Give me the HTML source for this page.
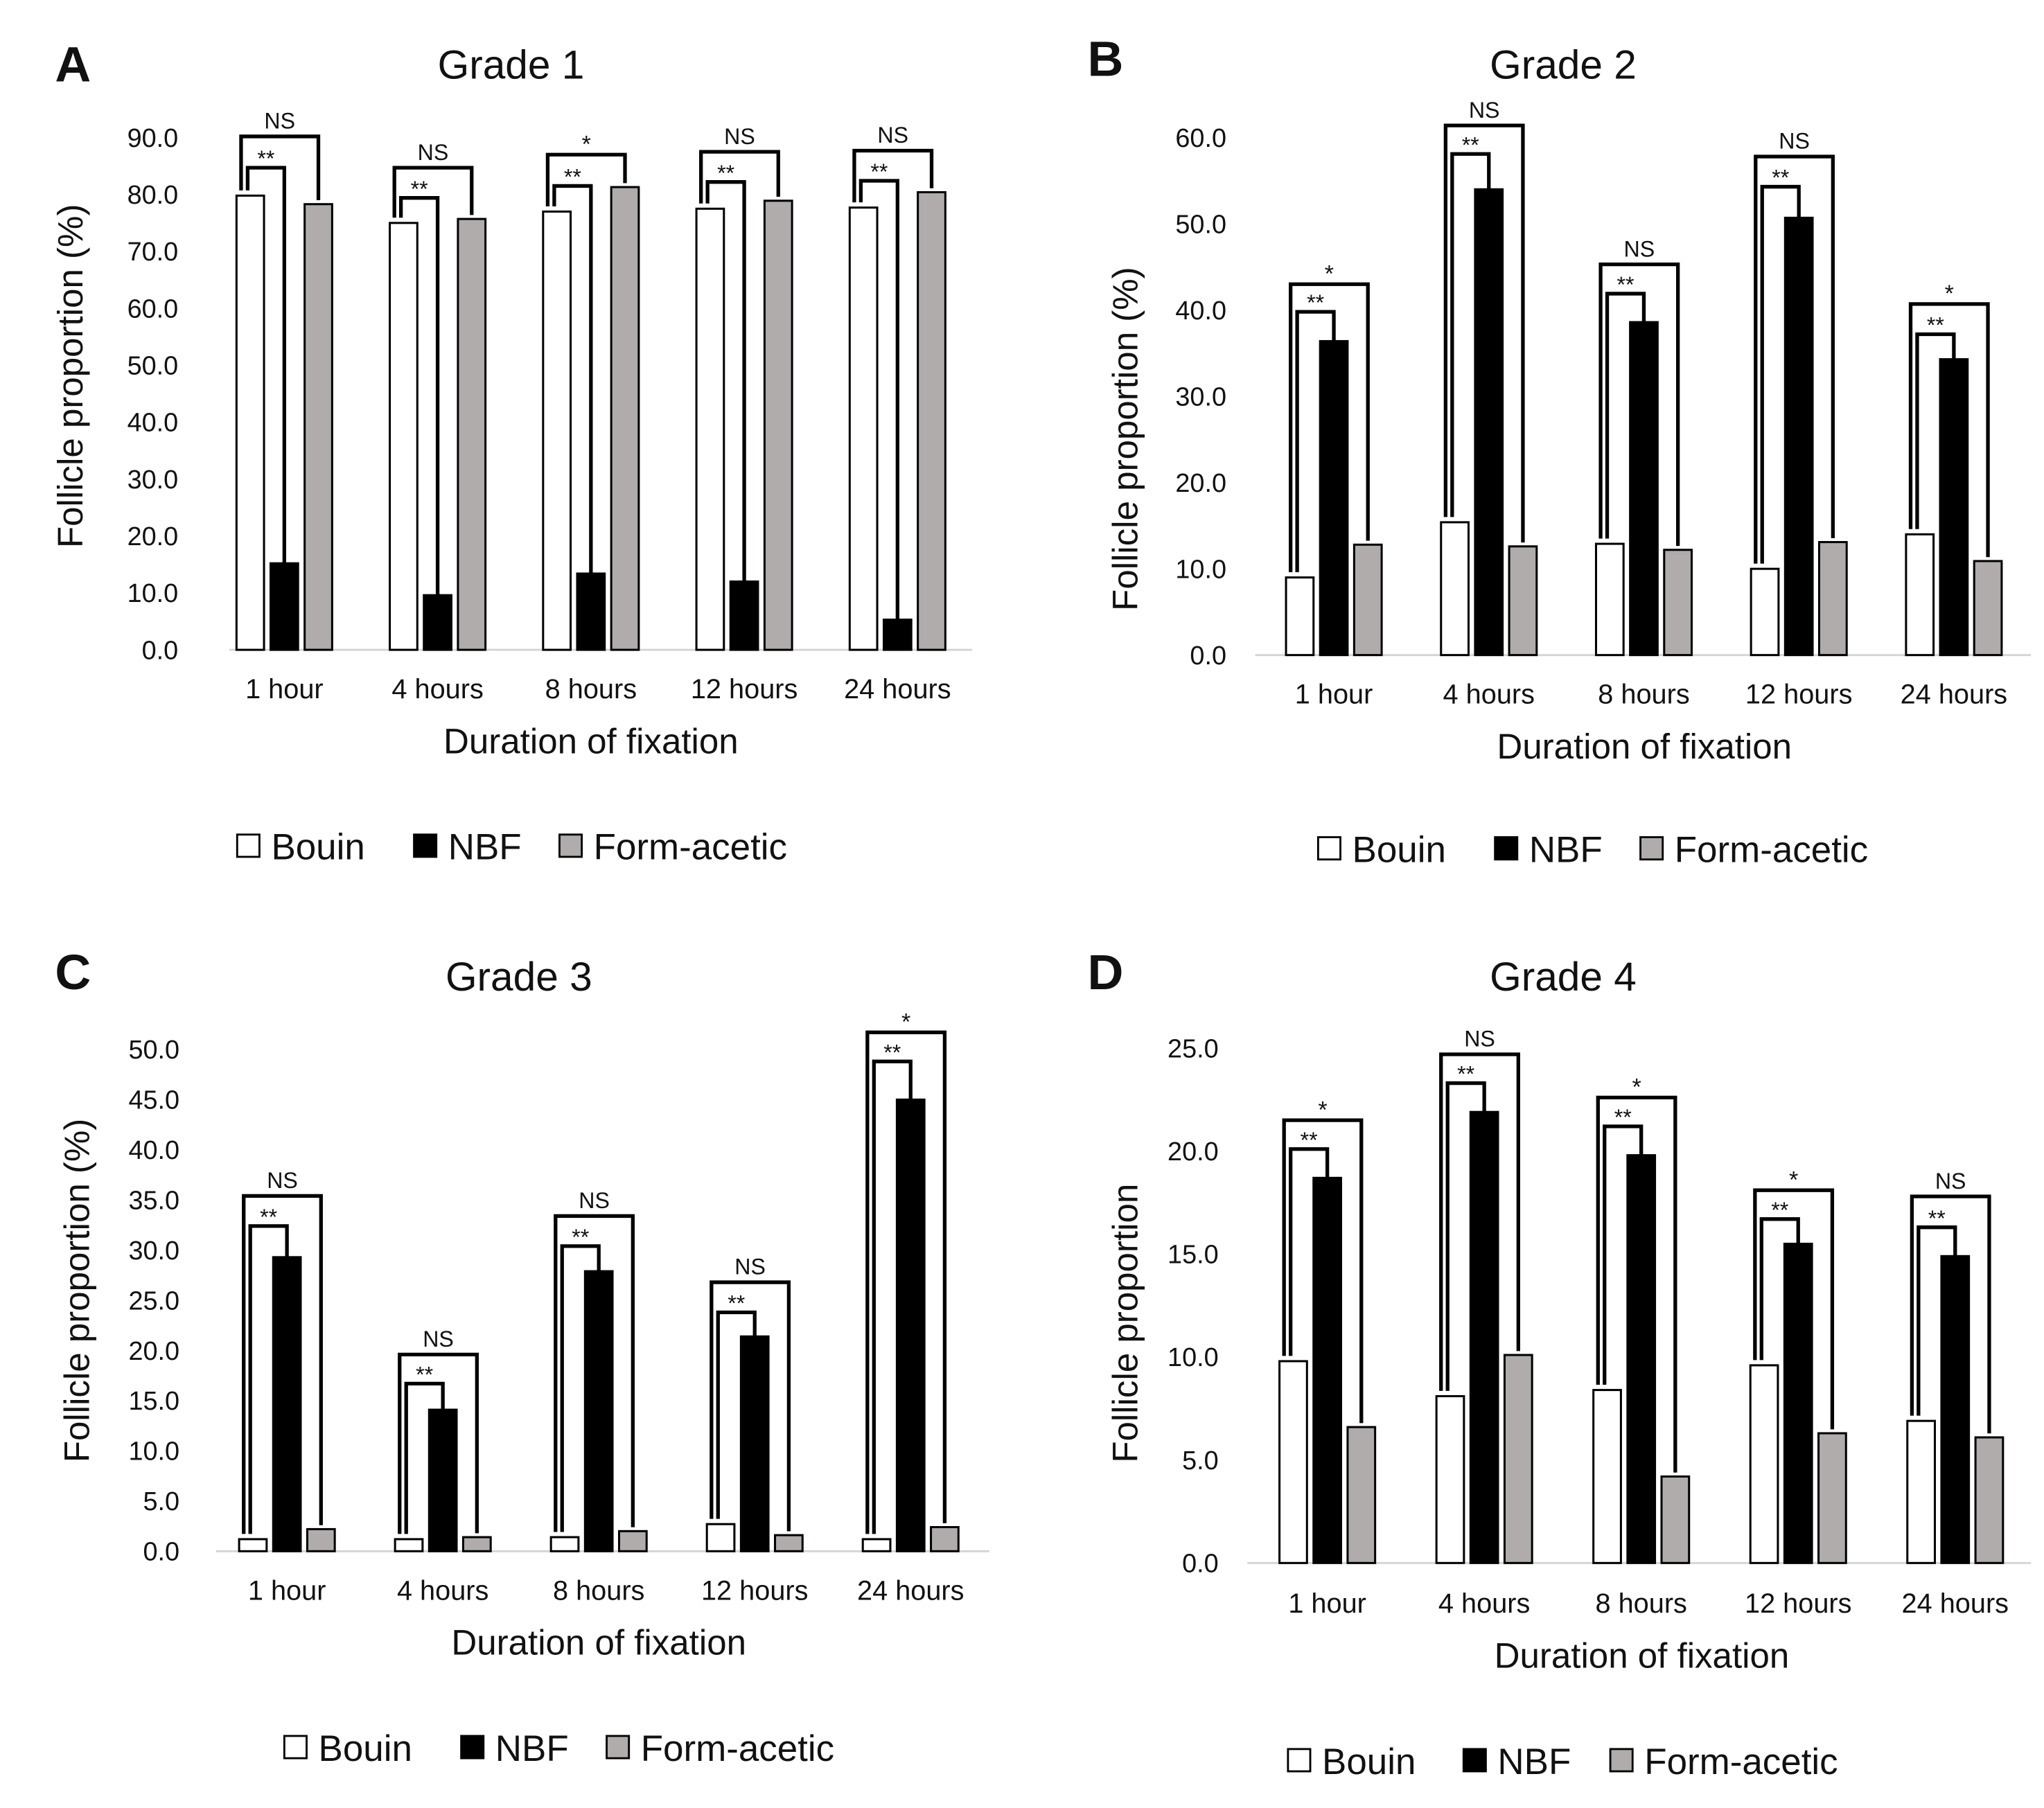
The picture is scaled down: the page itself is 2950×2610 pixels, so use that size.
<!DOCTYPE html>
<html><head><meta charset="utf-8">
<style>
html,body{margin:0;padding:0;background:#fff;}
svg{display:block;}
text{font-family:"Liberation Sans","DejaVu Sans",sans-serif;fill:#111;}
</style></head>
<body>
<svg id="fig" width="2950" height="2610" viewBox="0 0 1560 1380" preserveAspectRatio="none" xmlns="http://www.w3.org/2000/svg"></svg>
<script>
const categories = ["1 hour","4 hours","8 hours","12 hours","24 hours"];
const seriesNames = ["Bouin","NBF","Form-acetic"];
// Grade 1
const g1Bouin = [79.8, 75.0, 77.0, 77.5, 77.7];
const g1NBF = [15.2, 9.6, 13.4, 12.0, 5.3];
const g1FA = [78.3, 75.7, 81.3, 78.9, 80.4];
const g1Outer = [90.2, 84.7, 87.0, 87.5, 87.7];
const g1Inner = [84.7, 79.4, 81.5, 82.2, 82.4];
const g1OuterLabel = ["NS","NS","*","NS","NS"];
const g1Ticks = [0,10,20,30,40,50,60,70,80,90];
// Grade 2
const g2Bouin = [9.0, 15.4, 12.9, 10.0, 14.0];
const g2NBF = [36.4, 54.0, 38.6, 50.7, 34.3];
const g2FA = [12.8, 12.6, 12.2, 13.1, 10.9];
const g2Outer = [43.0, 61.4, 45.3, 57.8, 40.7];
const g2Inner = [39.8, 58.1, 41.9, 54.3, 37.2];
const g2OuterLabel = ["*","NS","NS","NS","*"];
const g2Ticks = [0,10,20,30,40,50,60];
// Grade 3
const g3Bouin = [1.2, 1.2, 1.4, 2.7, 1.2];
const g3NBF = [29.3, 14.1, 27.9, 21.4, 45.0];
const g3FA = [2.2, 1.4, 2.0, 1.6, 2.4];
const g3Outer = [35.4, 19.6, 33.4, 26.8, 51.7];
const g3Inner = [32.4, 16.7, 30.4, 23.8, 48.8];
const g3OuterLabel = ["NS","NS","NS","NS","*"];
const g3Ticks = [0,5,10,15,20,25,30,35,40,45,50];
// Grade 4
const g4Bouin = [9.8, 8.1, 8.4, 9.6, 6.9];
const g4NBF = [18.7, 21.9, 19.8, 15.5, 14.9];
const g4FA = [6.6, 10.1, 4.2, 6.3, 6.1];
const g4Outer = [21.5, 24.7, 22.6, 18.1, 17.8];
const g4Inner = [20.1, 23.3, 21.2, 16.7, 16.3];
const g4OuterLabel = ["*","NS","*","*","NS"];
const g4Ticks = [0,5,10,15,20,25];

const panels = [
 {id:"a",letter:"A",title:"Grade 1",ytitle:"Follicle proportion (%)",lx:42,ly:62,tx:390,ty:60,
  y0:496,yMax:90,yTop:105,axL:175,axR:742,c0:217,step:117,tickX:136,yt:[53,287],xt:533,xtt:[451,575],leg:[655,181,316,427],
  b:g1Bouin,n:g1NBF,f:g1FA,o:g1Outer,i:g1Inner,ol:g1OuterLabel,ticks:g1Ticks},
 {id:"b",letter:"B",title:"Grade 2",ytitle:"Follicle proportion (%)",lx:830,ly:58,tx:1193,ty:60,
  y0:500,yMax:60,yTop:105,axL:958,axR:1550,c0:1018,step:118.3,tickX:936,yt:[858,335],xt:537,xtt:[1255,579],leg:[657,1006,1141,1252],
  b:g2Bouin,n:g2NBF,f:g2FA,o:g2Outer,i:g2Inner,ol:g2OuterLabel,ticks:g2Ticks},
 {id:"c",letter:"C",title:"Grade 3",ytitle:"Follicle proportion (%)",lx:42,ly:755,tx:396,ty:756,
  y0:1184,yMax:50,yTop:801,axL:165,axR:755,c0:219,step:119,tickX:137,yt:[58,985],xt:1221,xtt:[457,1263],leg:[1343,217,352,463],
  b:g3Bouin,n:g3NBF,f:g3FA,o:g3Outer,i:g3Inner,ol:g3OuterLabel,ticks:g3Ticks},
 {id:"d",letter:"D",title:"Grade 4",ytitle:"Follicle proportion",lx:830,ly:755,tx:1193,ty:756,
  y0:1193,yMax:25,yTop:800,axL:952,axR:1550,c0:1013,step:119.8,tickX:930,yt:[858,1010],xt:1231,xtt:[1253,1273],leg:[1353,983,1117,1229],
  b:g4Bouin,n:g4NBF,f:g4FA,o:g4Outer,i:g4Inner,ol:g4OuterLabel,ticks:g4Ticks}
];
const NS="http://www.w3.org/2000/svg";
const svg=document.getElementById('fig');
function mk(tag,attrs,parent,txt){const e=document.createElementNS(NS,tag);for(const k in attrs)e.setAttribute(k,attrs[k]);if(txt!==undefined)e.textContent=txt;parent.appendChild(e);return e;}
const fills=["#ffffff","#000000","#b0acac"];
const BW=21, OFF=[-26,0,26];
panels.forEach(p=>{
  const g=mk('g',{},svg);
  
  
  const yS=v=>p.y0-(v/p.yMax)*(p.y0-p.yTop);
  const xC=k=>p.c0+k*p.step;
  let t=mk('text',{x:p.lx,y:p.ly,'font-size':38,'font-weight':'bold'},g,p.letter);
  
  
  t=mk('text',{x:p.tx,y:p.ty,'font-size':31,'text-anchor':'middle'},g,p.title);
  
  
  t=mk('text',{x:0,y:0,'font-size':27,'text-anchor':'middle',transform:`translate(${p.yt[0]+10},${p.yt[1]}) rotate(-90)`},g,p.ytitle);
  
  
  p.ticks.forEach(v=>{
    const tl=mk('text',{x:p.tickX,y:yS(v)+7,'font-size':20,'text-anchor':'end'},g,v.toFixed(1));
    
    
  });
  const ax=mk('line',{x1:p.axL,x2:p.axR,y1:p.y0,y2:p.y0,stroke:'#d4d4d4','stroke-width':1.5},g);
  
  
  categories.forEach((c,k)=>{
    const vals=[p.b[k],p.n[k],p.f[k]];
    vals.forEach((v,s)=>{
      const x=xC(k)+OFF[s]-BW/2;
      const r=mk('rect',{x:x,y:yS(v),width:BW,height:p.y0-yS(v),fill:fills[s],stroke:'#000','stroke-width':1.6},g);
      
      
    });
    const bx=xC(k)+OFF[0], nx=xC(k)+OFF[1], fx=xC(k)+OFF[2];
    const oy=yS(p.o[k]), iy=yS(p.i[k]);
    const ob=mk('path',{d:`M${bx-7},${yS(p.b[k])-4} V${oy} H${fx} V${yS(p.f[k])-3}`,fill:'none',stroke:'#000','stroke-width':2.8},g);
    
    
    const ib=mk('path',{d:`M${bx-2},${yS(p.b[k])-4} V${iy} H${nx} V${yS(p.n[k])}`,fill:'none',stroke:'#000','stroke-width':2.8},g);
    
    
    const ol=p.ol[k];
    let lt=mk('text',{x:(bx-7+fx)/2,y:oy-(ol==='*'?2:6),'font-size':ol==='*'?18:17,'text-anchor':'middle'},g,ol);
    
    
    lt=mk('text',{x:(bx-2+nx)/2,y:iy-1,'font-size':17,'text-anchor':'middle'},g,'**');
    
    
    lt=mk('text',{x:xC(k),y:p.xt,'font-size':21,'text-anchor':'middle'},g,c);
    
    
  });
  t=mk('text',{x:p.xtt[0],y:p.xtt[1],'font-size':27,'text-anchor':'middle'},g,'Duration of fixation');
  
  
  seriesNames.forEach((s,si)=>{
    const lx=p.leg[1+si], ly=p.leg[0];
    const lg=mk('g',{},g);
    
    
    mk('rect',{x:lx,y:ly-18,width:17,height:17,fill:fills[si],stroke:'#000','stroke-width':1.5},lg);
    mk('text',{x:lx+26,y:ly+1,'font-size':28},lg,s);
  });
});
</script>
</body></html>
